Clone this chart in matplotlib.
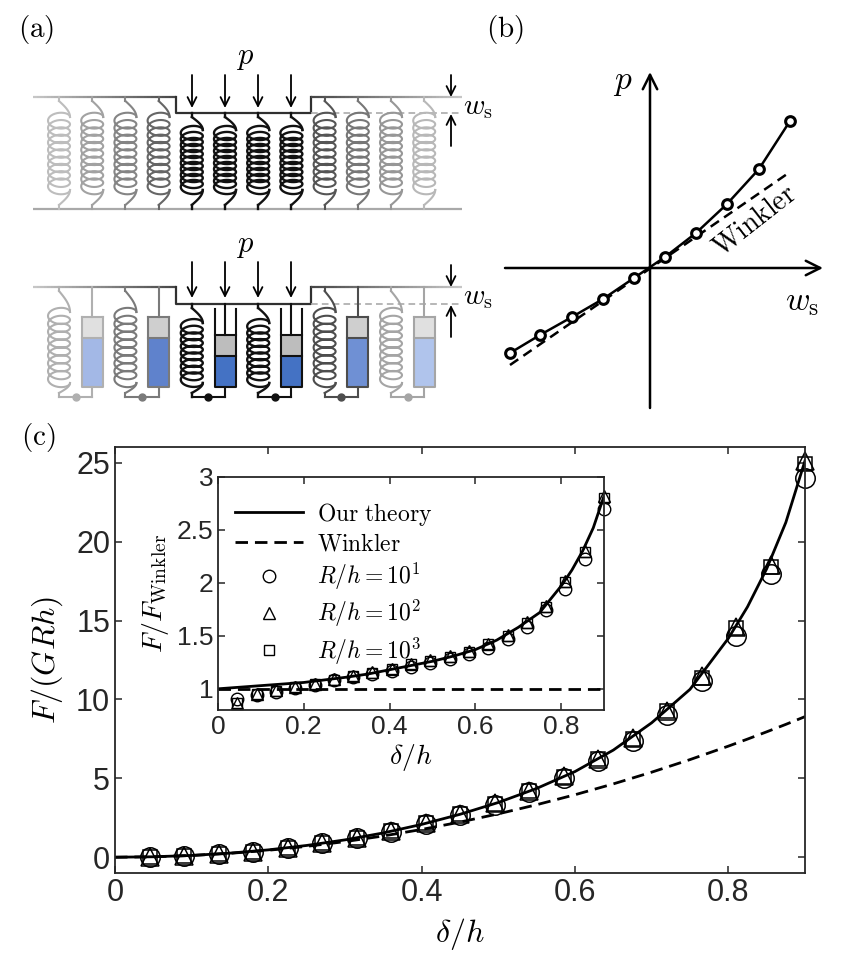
import numpy as np
import matplotlib
matplotlib.use("Agg")
from matplotlib import pyplot as plt
from matplotlib.collections import LineCollection
from matplotlib.colors import to_rgb

plt.rcParams['font.family'] = ['Liberation Sans', 'DejaVu Sans']
plt.rcParams['mathtext.fontset'] = 'cm'

# ---------------- data ----------------
# panel (c): indentation depth and simulation points
delta = [0.045, 0.09, 0.135, 0.18, 0.225, 0.27, 0.315, 0.36, 0.405, 0.45,
         0.495, 0.54, 0.585, 0.63, 0.675, 0.72, 0.765, 0.81, 0.855, 0.9]
F_r10 = [0.02, 0.08, 0.19, 0.36, 0.58, 0.87, 1.21, 1.63, 2.11, 2.70,
         3.34, 4.11, 5.01, 6.07, 7.37, 9.01, 11.20, 14.00, 17.93, 24.06]
F_r100 = [0.02, 0.08, 0.20, 0.36, 0.58, 0.87, 1.22, 1.65, 2.15, 2.74,
          3.42, 4.20, 5.12, 6.20, 7.57, 9.29, 11.46, 14.58, 18.50, 25.13]
F_r1000 = [0.02, 0.08, 0.20, 0.36, 0.58, 0.87, 1.22, 1.64, 2.15, 2.74,
           3.40, 4.17, 5.08, 6.20, 7.52, 9.24, 11.39, 14.51, 18.41, 24.95]
ratio_r10 = [0.90, 0.94, 0.97, 1.01, 1.04, 1.08, 1.11, 1.14, 1.17, 1.21,
             1.24, 1.28, 1.33, 1.39, 1.47, 1.58, 1.74, 1.94, 2.23, 2.70]
ratio_r100 = [0.87, 0.95, 0.99, 1.02, 1.05, 1.09, 1.12, 1.16, 1.19, 1.23,
              1.27, 1.31, 1.36, 1.42, 1.51, 1.63, 1.78, 2.02, 2.30, 2.82]
ratio_r1000 = [0.87, 0.95, 0.98, 1.02, 1.05, 1.08, 1.12, 1.15, 1.19, 1.23,
               1.26, 1.30, 1.35, 1.42, 1.50, 1.62, 1.77, 2.01, 2.29, 2.80]

# theory curves
theory_x = [0, 0.05, 0.1, 0.15, 0.2, 0.25, 0.3, 0.35, 0.4, 0.45, 0.5, 0.55,
            0.6, 0.65, 0.7, 0.75, 0.8, 0.825, 0.85, 0.875, 0.9]
theory_F = [0, 0.028, 0.113, 0.259, 0.466, 0.746, 1.10, 1.54, 2.08, 2.72, 3.47,
            4.36, 5.43, 6.79, 8.52, 10.64, 13.87, 15.87, 18.28, 21.22, 25.13]
winkler_F = [0, 0.0275, 0.11, 0.2475, 0.44, 0.6875, 0.99, 1.3475, 1.76, 2.2275,
             2.75, 3.3275, 3.96, 4.6475, 5.39, 6.1875, 7.04, 7.487, 7.9475,
             8.42, 8.91]
theory_ratio = [1.0, 1.015, 1.03, 1.045, 1.06, 1.085, 1.11, 1.14, 1.18, 1.22,
                1.26, 1.31, 1.37, 1.46, 1.58, 1.72, 1.97, 2.12, 2.30, 2.52, 2.82]
winkler_ratio = [1.0] * len(theory_x)

# panel (b): sketch of pressure vs. displacement
ws_b = [-1.40, -1.10, -0.78, -0.47, -0.16, 0.15, 0.46, 0.77, 1.09, 1.40]
p_b = [-0.85, -0.67, -0.49, -0.31, -0.10, 0.11, 0.35, 0.64, 0.99, 1.47]
ws_wink = [-1.40, 1.40]
p_wink = [-0.97, 0.96]

fig = plt.figure(figsize=(8.47, 9.63), dpi=100)

# ---------------- panel (a): schematic drawn in pixel coordinates ----------------
ax0 = fig.add_axes([0, 0, 1, 1])
ax0.set_xlim(0, 847)
ax0.set_ylim(963, 0)
ax0.axis('off')


def mix(c0, c1, f):
    a = np.array(to_rgb(c0))
    b = np.array(to_rgb(c1))
    return tuple(a + (b - a) * f)


def grad_line(x0, x1, y, c0, c1, lw=1.6, n=40):
    xs = np.linspace(x0, x1, n + 1)
    segs = [[(xs[i], y), (xs[i + 1], y)] for i in range(n)]
    cols = [mix(c0, c1, (i + 0.5) / n) for i in range(n)]
    ax0.add_collection(LineCollection(segs, colors=cols, linewidths=lw))


def spring(xc, y_top, y_bot, c_top, c_bot, color, loops=10, hw=11, b=6.0, lw=1.5):
    s = np.linspace(0, 1, 20)
    # top lead
    ax0.plot([xc, xc], [y_top, y_top + 4], color=color, lw=lw)
    ax0.plot(xc + hw * np.sin(s * np.pi / 2), y_top + 4 + (c_top - y_top - 4) * s,
             color=color, lw=lw)
    # coil
    t = np.linspace(0, 2 * np.pi * loops, 900)
    ax0.plot(xc + hw * np.cos(t),
             c_top + (c_bot - c_top) * t / t[-1] - b * np.sin(t),
             color=color, lw=lw)
    # bottom lead
    ax0.plot(xc + hw * np.cos(s * np.pi / 2), c_bot + (y_bot - 4 - c_bot) * s,
             color=color, lw=lw)
    ax0.plot([xc, xc], [y_bot - 4, y_bot], color=color, lw=lw)


def dashpot(xc, y_plate, wall_top, pist_top, pist_bot, cyl_bot, y_bar, color,
            gray, blue, w=21, lw=1.5):
    ax0.fill_between([xc - w / 2, xc + w / 2], pist_top, pist_bot, color=gray, lw=0)
    ax0.fill_between([xc - w / 2, xc + w / 2], pist_bot, cyl_bot, color=blue, lw=0)
    ax0.plot([xc, xc], [y_plate, pist_top], color=color, lw=lw)
    ax0.plot([xc - w / 2, xc - w / 2, xc + w / 2, xc + w / 2],
             [wall_top, cyl_bot, cyl_bot, wall_top], color=color, lw=lw)
    ax0.plot([xc - w / 2, xc + w / 2], [pist_top, pist_top], color=color, lw=lw)
    ax0.plot([xc - w / 2, xc + w / 2], [pist_bot, pist_bot], color=color, lw=lw)
    ax0.plot([xc, xc], [cyl_bot, y_bar], color=color, lw=lw)


def plate(y, dy, light='#c8c8c8', dark='#454545'):
    grad_line(33, 176, y, light, dark)
    ax0.plot([176, 176, 311, 311], [y, y + dy, y + dy, y], color='#303030', lw=1.6)
    grad_line(311, 462, y, dark, light)
    ax0.plot([311, 462], [y + dy, y + dy], color='#aaaaaa', lw=1.2, dashes=(4, 2.5))


def load_arrows(y0, y1, y_plate, dy, yp):
    for xa in [192, 225, 258, 291]:
        ax0.annotate('', xy=(xa, y1), xytext=(xa, y0),
                     arrowprops=dict(arrowstyle='->', lw=1.3, color='k',
                                     mutation_scale=16, shrinkA=0, shrinkB=0))
    ax0.text(245, yp, r'$p$', fontsize=22, ha='center', va='center')
    ax0.annotate('', xy=(451, y_plate), xytext=(451, y_plate - 22),
                 arrowprops=dict(arrowstyle='->', lw=1.3, color='k',
                                 mutation_scale=16, shrinkA=0, shrinkB=0))
    ax0.annotate('', xy=(451, y_plate + dy + 1), xytext=(451, y_plate + dy + 33),
                 arrowprops=dict(arrowstyle='->', lw=1.3, color='k',
                                 mutation_scale=16, shrinkA=0, shrinkB=0))
    ax0.text(463, y_plate + 10, r'$w_{\mathrm{s}}$', fontsize=21, ha='left', va='center')


slots = 59 + 33.2 * np.arange(12)

# top schematic: Winkler springs
top_cols = ['#bdbdbd', '#a2a2a2', '#858585', '#666666',
            '#111111', '#111111', '#111111', '#111111',
            '#555555', '#777777', '#979797', '#b8b8b8']
plate(97, 16)
grad_line(33, 462, 209, '#c8c8c8', '#8a8a8a', n=1)
for i, xc in enumerate(slots):
    if 4 <= i <= 7:
        spring(xc, 113, 209, 130, 190, top_cols[i], b=5.5, lw=1.7)
    else:
        spring(xc, 97, 209, 117, 190, top_cols[i], b=6.0)
load_arrows(75, 108, 97, 16, 57)

# bottom schematic: springs with dashpots
pair_cols = ['#b0b0b0', '#7a7a7a', '#111111', '#111111', '#4d4d4d', '#a5a5a5']
pair_blue = ['#a3b8e6', '#5f82cc', '#4472c4', '#4472c4', '#6f90d4', '#b0c4ec']
pair_gray = ['#e0e0e0', '#cfcfcf', '#bdbdbd', '#bdbdbd', '#cfcfcf', '#e0e0e0']
plate(287, 17)
for k in range(6):
    xs_, xd_ = slots[2 * k], slots[2 * k + 1]
    col = pair_cols[k]
    if k in (2, 3):
        spring(xs_, 304, 397, 323, 383, col, loops=9, b=5.5, lw=1.7)
        dashpot(xd_, 304, 309, 335, 356, 387, 397, col, pair_gray[k], pair_blue[k])
    else:
        spring(xs_, 287, 397, 312, 383, col, loops=9, b=6.0)
        dashpot(xd_, 287, 317, 317, 338, 387, 397, col, pair_gray[k], pair_blue[k])
    ax0.plot([xs_, xd_], [397, 397], color=col, lw=1.5)
    ax0.plot((xs_ + xd_) / 2, 397, 'o', ms=5, color=col)
load_arrows(262, 298, 287, 17, 245)

ax0.text(36, 30, r'$\mathrm{(a)}$', fontsize=21, ha='center', va='center')
ax0.text(505, 29, r'$\mathrm{(b)}$', fontsize=21, ha='center', va='center')
ax0.text(38, 437, r'$\mathrm{(c)}$', fontsize=21, ha='center', va='center')

# ---------------- panel (b) ----------------
axb = fig.add_axes([500 / 847, (963 - 415) / 963, 340 / 847, 355 / 963])
axb.set_xlim(-1.5, 1.9)
axb.set_ylim(-1.47, 2.08)
axb.axis('off')
axb.annotate('', xy=(1.73, 0), xytext=(-1.45, 0),
             arrowprops=dict(arrowstyle='->', lw=1.8, color='k',
                             mutation_scale=26, shrinkA=0, shrinkB=0))
axb.annotate('', xy=(0, 1.96), xytext=(0, -1.40),
             arrowprops=dict(arrowstyle='->', lw=1.8, color='k',
                             mutation_scale=26, shrinkA=0, shrinkB=0))
axb.plot(ws_wink, p_wink, color='k', lw=1.8, dashes=(4, 2.5))
axb.plot(ws_b, p_b, color='k', lw=1.8, marker='o', ms=7, mew=2.2, mfc='white')
axb.text(-0.27, 1.85, r'$p$', fontsize=24, ha='center', va='center')
axb.text(1.52, -0.34, r'$w_{\mathrm{s}}$', fontsize=24, ha='center', va='center')
axb.text(1.05, 0.47, r'$\mathrm{Winkler}$', fontsize=20, ha='center', va='center',
         rotation=38)

# ---------------- panel (c) main ----------------
spine_col = '#262626'


def style_axes(ax, fs):
    for sp in ax.spines.values():
        sp.set_linewidth(1.3)
        sp.set_color(spine_col)
    ax.tick_params(direction='in', top=True, right=True, length=5, width=1.1,
                   labelsize=fs, colors=spine_col, labelcolor='#262626')


ax = fig.add_axes([115 / 847, (963 - 873) / 963, 690 / 847, 426 / 963])
ax.plot(theory_x, winkler_F, color='k', lw=2, dashes=(4.5, 2.5))
ax.plot(theory_x, theory_F, color='k', lw=2)
ax.plot(delta, F_r10, 'o', ms=14, mfc='none', mec='k', mew=1.1, clip_on=False)
ax.plot(delta, F_r100, '^', ms=13, mfc='none', mec='k', mew=1.1, clip_on=False)
ax.plot(delta, F_r1000, 's', ms=10, mfc='none', mec='k', mew=1.1, clip_on=False)
ax.set_xlim(0, 0.9)
ax.set_ylim(-1, 26)
ax.set_xticks([0, 0.2, 0.4, 0.6, 0.8])
ax.set_xticklabels(['0', '0.2', '0.4', '0.6', '0.8'])
ax.set_yticks([0, 5, 10, 15, 20, 25])
style_axes(ax, 22)
ax.set_xlabel(r'$\delta/h$', fontsize=23, labelpad=6)
ax.set_ylabel(r'$F/(GRh)$', fontsize=23, labelpad=8)

# ---------------- panel (c) inset ----------------
axi = fig.add_axes([218 / 847, (963 - 710) / 963, 386 / 847, 233 / 963])
axi.plot(theory_x, theory_ratio, color='k', lw=2, label=r'$\mathrm{Our\ theory}$')
axi.plot(theory_x, winkler_ratio, color='k', lw=2, dashes=(4.5, 2.5),
         label=r'$\mathrm{Winkler}$')
axi.plot(delta, ratio_r10, 'o', ms=9, mfc='none', mec='k', mew=1.0,
         clip_on=False, label=r'$R/h=10^1$')
axi.plot(delta, ratio_r100, '^', ms=9, mfc='none', mec='k', mew=1.0,
         clip_on=False, label=r'$R/h=10^2$')
axi.plot(delta, ratio_r1000, 's', ms=7, mfc='none', mec='k', mew=1.0,
         clip_on=False, label=r'$R/h=10^3$')
axi.set_xlim(0, 0.9)
axi.set_ylim(0.8, 3)
axi.set_xticks([0, 0.2, 0.4, 0.6, 0.8])
axi.set_xticklabels(['0', '0.2', '0.4', '0.6', '0.8'])
axi.set_yticks([1, 1.5, 2, 2.5, 3])
axi.set_yticklabels(['1', '1.5', '2', '2.5', '3'])
style_axes(axi, 19)
axi.set_xlabel(r'$\delta/h$', fontsize=20, labelpad=2)
axi.set_ylabel(r'$F/F_{\mathrm{Winkler}}$', fontsize=20, labelpad=4)
axi.legend(loc='upper left', frameon=False, fontsize=17, handlelength=2.9,
           handletextpad=0.6, labelspacing=0.25, borderaxespad=0.3,
           bbox_to_anchor=(0.0, 0.97))

fig.savefig('out.png', dpi=100)
